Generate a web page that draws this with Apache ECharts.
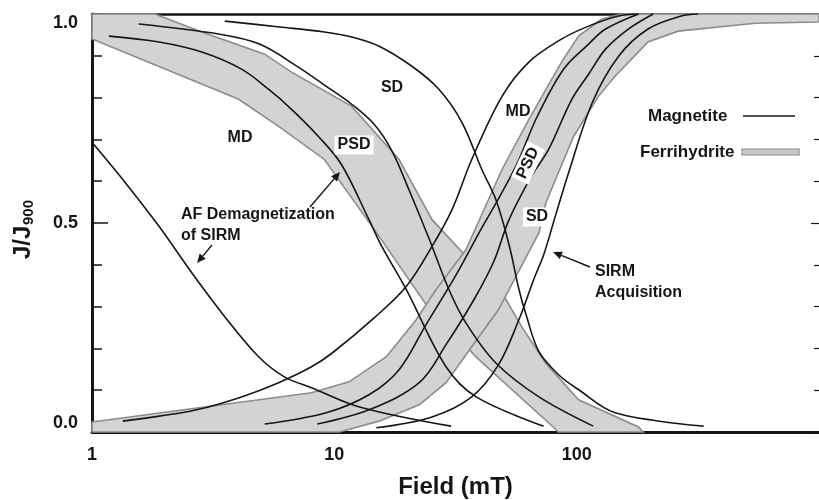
<!DOCTYPE html>
<html>
<head>
<meta charset="utf-8">
<script src="https://cdn.jsdelivr.net/npm/echarts@6.0.0/dist/echarts.min.js"></script>
<style>
html, body { margin: 0; padding: 0; background: #fff; }
#chart { width: 819px; height: 500px; }
</style>
</head>
<body>
<div id="chart"></div>
<script>
// axis ticks
var xTickValues = [1, 10, 100];
var xTickLabels = ['1', '10', '100'];
var yTickLabels = ['0.0', '0.5', '1.0'];

// magnetite, AF demagnetization of SIRM  [field mT, J/J900]
var afLeft = [[1, 0.693], [1.37, 0.597], [1.89, 0.492], [2.58, 0.381], [3.53, 0.276], [4.87, 0.18], [6.22, 0.132], [8.05, 0.106], [12.7, 0.06], [30.3, 0.014]];
var afMD = [[1.175, 0.947], [1.89, 0.933], [2.84, 0.909], [4.14, 0.868], [5.35, 0.82], [6.66, 0.772], [8.6, 0.707], [10.7, 0.64], [13.9, 0.508], [15.7, 0.444], [19.8, 0.341], [28.9, 0.156], [38.5, 0.084], [73, 0.014]];
var afPSD = [[1.56, 0.976], [3.33, 0.952], [4.91, 0.928], [7.1, 0.873], [9.1, 0.83], [11.8, 0.784], [14.6, 0.736], [17.3, 0.672], [20.3, 0.58], [24.7, 0.46], [29.7, 0.341], [34.9, 0.261], [46.4, 0.165], [69.9, 0.084], [117, 0.014]];
var afSD = [[3.53, 0.983], [5.94, 0.969], [9.1, 0.957], [11.8, 0.945], [15.3, 0.923], [20.9, 0.875], [27, 0.82], [33.6, 0.741], [40.6, 0.628], [46.4, 0.556], [52.6, 0.448], [57.8, 0.341], [61.8, 0.281], [69.9, 0.192], [84.2, 0.137], [102, 0.101], [144, 0.046], [334, 0.014]];

// magnetite, SIRM acquisition
var irmMD = [[1.34, 0.026], [1.9, 0.038], [2.7, 0.053], [4.14, 0.084], [5.89, 0.118], [8.05, 0.156], [9.8, 0.189], [14.6, 0.273], [19.8, 0.348], [25.3, 0.444], [30.6, 0.532], [36.9, 0.652], [49.2, 0.803], [63.5, 0.885], [86.6, 0.94], [112, 0.971], [149, 0.995], [180, 1.0]];
var irmPSD1 = [[5.16, 0.019], [9.26, 0.046], [13.9, 0.089], [18.5, 0.149], [23.9, 0.257], [31.8, 0.376], [39.6, 0.477], [49.2, 0.573], [57.8, 0.652], [68.5, 0.753], [88.3, 0.868], [112, 0.928], [131.6, 0.964], [180, 1.0]];
var irmPSD2 = [[8.5, 0.019], [13.9, 0.053], [22.4, 0.118], [28.9, 0.209], [37.7, 0.317], [45.5, 0.408], [52.6, 0.508], [65.1, 0.612], [76.6, 0.676], [95.5, 0.796], [112, 0.856], [131.6, 0.916], [163.5, 0.964], [207, 1.0]];
var irmSD = [[14.9, 0.01], [25.3, 0.036], [36.9, 0.084], [47.6, 0.161], [57.8, 0.269], [66.5, 0.365], [73.1, 0.424], [82, 0.52], [92.7, 0.621], [116.2, 0.789], [149, 0.899], [197, 0.964], [270, 0.995], [317, 1.0]];

// ferrihydrite envelopes
var ferriAfUpper = [[1, 1.0], [1.82, 1.0], [2.84, 0.957], [5.16, 0.904], [6.66, 0.861], [11.8, 0.779], [18.5, 0.652], [25.3, 0.508], [51.1, 0.317], [59.3, 0.252], [74.4, 0.165], [101.8, 0.077], [180, 0.012], [188, 0]];
var ferriAfLower = [[1, 0.94], [4.03, 0.796], [5.89, 0.731], [9.1, 0.652], [15.3, 0.468], [24.7, 0.293], [39.5, 0.173], [80, 0.012], [84, 0]];
var ferriIrmUpper = [[1, 0.024], [8.05, 0.094], [11.5, 0.12], [16.4, 0.18], [21.8, 0.269], [26.3, 0.341], [34.9, 0.436], [49.2, 0.628], [63.5, 0.748], [86.6, 0.885], [101.8, 0.947], [127, 0.988], [153, 1.0], [1000, 1.0]];
var ferriIrmLower = [[1, 0], [10.5, 0], [15.3, 0.026], [22.4, 0.065], [28.9, 0.118], [36.9, 0.204], [47.6, 0.293], [69.9, 0.477], [74.7, 0.549], [97.1, 0.707], [123, 0.803], [144, 0.851], [197, 0.933], [262, 0.959], [546, 0.978], [1000, 0.981]];

var FONT = '"Liberation Sans", Arial, sans-serif';
var INK = '#161616';

function lineSeries(data) {
    return {
        type: 'line', data: data, smooth: 0.35, showSymbol: false, symbol: 'none',
        silent: true, z: 3,
        lineStyle: {color: INK, width: 1.6}
    };
}

function bandSeries(upper, lower) {
    var pts = upper.concat(lower.slice().reverse());
    return {
        type: 'custom', data: [[10, 0.5]], silent: true, z: 1,
        renderItem: function (params, api) {
            return {
                type: 'polygon',
                shape: {points: pts.map(function (p) { return api.coord(p); })},
                style: {fill: '#d3d3d5', stroke: '#8c8c8c', lineWidth: 1.6}
            };
        }
    };
}

function txt(s, x, y, opt) {
    opt = opt || {};
    return {
        type: 'text', x: x, y: y, z: 100, rotation: opt.rot || 0,
        style: {
            text: s, fill: INK,
            font: 'bold ' + (opt.size || 16) + 'px ' + FONT,
            align: opt.align || 'center', verticalAlign: 'middle',
            backgroundColor: opt.box ? '#fff' : null,
            padding: opt.box ? [2, 3, 1, 3] : 0
        }
    };
}

function arrow(x1, y1, x2, y2) {
    var a = Math.atan2(y2 - y1, x2 - x1), L = 9, W = 4;
    var bx = x2 - L * Math.cos(a), by = y2 - L * Math.sin(a);
    return [
        {type: 'line', z: 100, shape: {x1: x1, y1: y1, x2: bx, y2: by}, style: {stroke: INK, lineWidth: 1.4}},
        {type: 'polygon', z: 100, shape: {points: [[x2, y2],
            [bx + W * Math.sin(a), by - W * Math.cos(a)],
            [bx - W * Math.sin(a), by + W * Math.cos(a)]]}, style: {fill: INK}}
    ];
}

var chart = echarts.init(document.getElementById('chart'));

var graphics = [
    txt('MD', 240, 138),
    txt('SD', 392, 88),
    txt('PSD', 354, 145, {box: true}),
    txt('MD', 518, 112),
    txt('PSD', 528, 163, {box: true, rot: 65 * Math.PI / 180}),
    txt('SD', 537, 217, {box: true}),
    txt('AF Demagnetization', 181, 215, {align: 'left'}),
    txt('of SIRM', 181, 236, {align: 'left'}),
    txt('SIRM', 595, 272, {align: 'left'}),
    txt('Acquisition', 595, 293, {align: 'left'}),
    txt('Magnetite', 648, 116, {align: 'left', size: 17}),
    txt('Ferrihydrite', 640, 152, {align: 'left', size: 17}),
    {type: 'line', z: 100, shape: {x1: 743, y1: 116, x2: 795, y2: 116}, style: {stroke: INK, lineWidth: 1.6}},
    {type: 'rect', z: 100, shape: {x: 742, y: 149, width: 57, height: 6}, style: {fill: '#c8c8ca', stroke: '#8c8c8c', lineWidth: 1.2}},
    {
        type: 'group', x: 23, y: 228, rotation: Math.PI / 2, z: 100,
        children: [
            {type: 'text', x: -31, y: 0, style: {text: 'J/J', fill: INK, font: 'bold 24px ' + FONT, align: 'left', verticalAlign: 'middle'}},
            {type: 'text', x: 3, y: 6, style: {text: '900', fill: INK, font: 'bold 15px ' + FONT, align: 'left', verticalAlign: 'middle'}}
        ]
    }
].concat(arrow(212, 245, 197, 263), arrow(310, 207, 340, 172), arrow(590, 267, 553, 252));

chart.setOption({
    animation: false,
    grid: {left: 92, right: 0, top: 14, bottom: 68, outerBoundsMode: 'none'},
    xAxis: [{
        type: 'log', logBase: 10, min: 1, max: 1000,
        name: 'Field (mT)', nameLocation: 'middle', nameGap: 43, nameMoveOverlap: false,
        nameTextStyle: {fontSize: 24, fontWeight: 'bold', color: INK, fontFamily: FONT},
        axisLine: {onZero: false, lineStyle: {color: INK, width: 3}},
        axisTick: {show: false},
        splitLine: {show: false},
        axisLabel: {
            margin: 14, fontSize: 18, fontWeight: 'bold', color: INK, fontFamily: FONT,
            formatter: function (v) {
                var i = xTickValues.indexOf(Math.round(v));
                return i < 0 ? '' : xTickLabels[i];
            }
        }
    }, {
        type: 'log', logBase: 10, min: 1, max: 1000, position: 'top',
        axisLine: {onZero: false, lineStyle: {color: INK, width: 2.5}},
        axisTick: {show: false}, axisLabel: {show: false}, splitLine: {show: false}
    }],
    yAxis: [{
        type: 'value', min: 0, max: 1, interval: 0.5,
        axisLine: {show: true, onZero: false, lineStyle: {color: INK, width: 3}},
        axisTick: {inside: true, length: 16, lineStyle: {color: INK, width: 1.5}},
        minorTick: {show: true, splitNumber: 5, length: 10, lineStyle: {color: INK, width: 1.5}},
        splitLine: {show: false},
        axisLabel: {
            margin: 14, fontSize: 18, fontWeight: 'bold', color: INK, fontFamily: FONT,
            verticalAlignMaxLabel: 'top', verticalAlignMinLabel: 'bottom',
            formatter: function (v) { return yTickLabels[Math.round(v * 2)]; }
        }
    }, {
        type: 'value', min: 0, max: 1, interval: 0.5, position: 'right',
        axisLine: {show: false, onZero: false},
        axisTick: {inside: true, length: 8, lineStyle: {color: INK, width: 1.2}},
        minorTick: {show: true, splitNumber: 5, length: 5, lineStyle: {color: INK, width: 1.2}},
        splitLine: {show: false}, axisLabel: {show: false}
    }],
    series: [
        bandSeries(ferriAfUpper, ferriAfLower),
        bandSeries(ferriIrmUpper, ferriIrmLower),
        lineSeries(afLeft), lineSeries(afMD), lineSeries(afPSD), lineSeries(afSD),
        lineSeries(irmMD), lineSeries(irmPSD1), lineSeries(irmPSD2), lineSeries(irmSD)
    ],
    graphic: graphics
});
</script>
</body>
</html>
